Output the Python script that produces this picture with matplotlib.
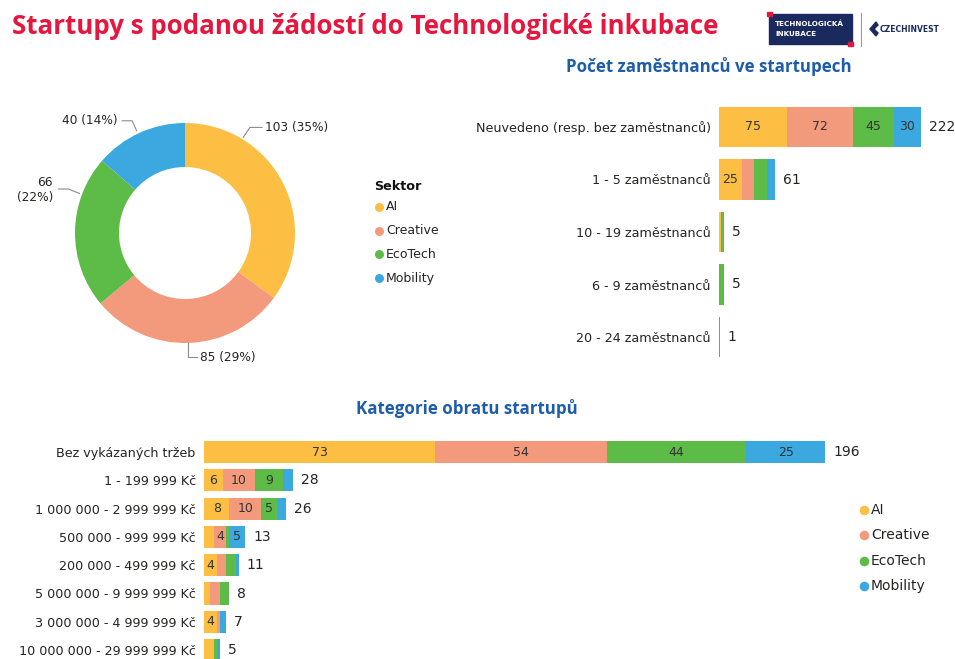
import matplotlib
matplotlib.use("Agg")
import matplotlib.pyplot as plt
from matplotlib.patches import Rectangle, Polygon

# sector data
sectors = ["AI", "Creative", "EcoTech", "Mobility"]
sector_colors = ["#FDBF43", "#F3997C", "#5DBB47", "#3BA8E0"]
donut_values = [103, 85, 66, 40]

# employees chart
emp_cats = ["Neuvedeno (resp. bez zaměstnanců)", "1 - 5 zaměstnanců",
            "10 - 19 zaměstnanců", "6 - 9 zaměstnanců", "20 - 24 zaměstnanců"]
emp_ai = [75, 25, 2, 0, 0]
emp_creative = [72, 13, 0, 0, 0]
emp_ecotech = [45, 15, 3, 4, 0]
emp_mobility = [30, 8, 0, 1, 1]

# turnover chart
rev_cats = ["Bez vykázaných tržeb", "1 - 199 999 Kč", "1 000 000 - 2 999 999 Kč",
            "500 000 - 999 999 Kč", "200 000 - 499 999 Kč", "5 000 000 - 9 999 999 Kč",
            "3 000 000 - 4 999 999 Kč", "10 000 000 - 29 999 999 Kč"]
rev_ai = [73, 6, 8, 3, 4, 2, 4, 3]
rev_creative = [54, 10, 10, 4, 3, 3, 1, 0]
rev_ecotech = [44, 9, 5, 1, 3, 3, 0, 1]
rev_mobility = [25, 3, 3, 5, 1, 0, 2, 1]

W, H = 955, 659
TXT = "#252423"
TITLE_RED = "#E5173F"
SUB_BLUE = "#1D5DAA"
NAVY = "#1B2A5E"


def px_axes(fig, x0, y0, x1, y1):
    # axes from pixel box (top-left origin)
    return fig.add_axes([x0 / W, 1 - y1 / H, (x1 - x0) / W, (y1 - y0) / H])


def stacked_bars(ax, cats, series, px_per_unit, height, ylim, xmax, tick_size,
                 total_size, seg_size):
    y = list(range(len(cats)))
    left = [0] * len(cats)
    for vals, col in zip(series, sector_colors):
        ax.barh(y, vals, left=left, height=height, color=col, linewidth=0)
        for i, v in enumerate(vals):
            if v == 0:
                continue
            label = str(v)
            need = len(label) * 7.5 + 4
            if v * px_per_unit >= need:
                ax.text(left[i] + v / 2, i, label, ha="center", va="center",
                        fontsize=seg_size, color="#333333")
        left = [l + v for l, v in zip(left, vals)]
    for i, tot in enumerate(left):
        ax.text(tot + 8 / px_per_unit, i, str(tot), ha="left", va="center",
                fontsize=total_size, color=TXT)
    ax.set_yticks(y)
    ax.set_yticklabels(cats, fontsize=tick_size, color=TXT)
    ax.tick_params(axis="y", length=0, pad=6)
    ax.set_xticks([])
    ax.set_xlim(0, xmax)
    ax.set_ylim(*ylim)
    for s in ax.spines.values():
        s.set_visible(False)


fig = plt.figure(figsize=(W / 100, H / 100), dpi=100)
plt.rcParams['font.family'] = ['DejaVu Sans']

# ---- donut ----
axd = px_axes(fig, 75, 123, 295, 343)
axd.pie(donut_values, colors=sector_colors, startangle=90, counterclock=False,
        radius=1, wedgeprops=dict(width=0.4, linewidth=0))
axd.set_xlim(-1, 1)
axd.set_ylim(-1, 1)
axd.set_aspect("equal")
total = sum(donut_values)
# leader lines: (start, elbow, end), text anchor, alignment
leaders = [
    ([(0.53, 0.87), (0.59, 0.96), (0.70, 0.96)], (0.73, 0.96), "left"),
    ([(0.03, -1.0), (0.03, -1.13), (0.11, -1.13)], (0.14, -1.13), "left"),
    ([(-0.96, 0.36), (-1.06, 0.40), (-1.15, 0.40)], (-1.20, 0.39), "right"),
    ([(-0.44, 0.93), (-0.48, 1.02), (-0.57, 1.02)], (-0.61, 1.02), "right"),
]
for val, (pts, tpos, ha) in zip(donut_values, leaders):
    xs, ys = zip(*pts)
    axd.plot(xs, ys, color="#8a8a8a", lw=0.8, clip_on=False)
    pct = round(100 * val / total)
    label = f"{val} ({pct}%)" if val != 66 else f"{val}\n({pct}%)"
    axd.text(tpos[0], tpos[1], label, ha=ha, va="center", fontsize=8.7,
             color=TXT, linespacing=1.2, clip_on=False)

# ---- employees ----
ax1 = px_axes(fig, 719, 100.75, 949, 363.25)
stacked_bars(ax1, emp_cats, [emp_ai, emp_creative, emp_ecotech, emp_mobility],
             px_per_unit=0.91, height=0.77, ylim=(4.5, -0.5), xmax=230 / 0.91,
             tick_size=9.2, total_size=10, seg_size=9)

# ---- turnover ----
ax2 = px_axes(fig, 204, 437.85, 850, 659)
stacked_bars(ax2, rev_cats, [rev_ai, rev_creative, rev_ecotech, rev_mobility],
             px_per_unit=3.17, height=0.78, ylim=(-0.5 + 221.15 / 28.3, -0.5),
             xmax=646 / 3.17, tick_size=9.2, total_size=10, seg_size=9)

# ---- overlay in pixel coords for titles, legends, logo ----
ov = fig.add_axes([0, 0, 1, 1], zorder=5)
ov.set_xlim(0, W)
ov.set_ylim(H, 0)
ov.axis("off")
ov.patch.set_alpha(0)

ov.text(12, 26, "Startupy s podanou žádostí do Technologické inkubace",
        ha="left", va="center", fontsize=18.6, fontweight="bold", color=TITLE_RED,
        family="Open Sans")
ov.text(709, 66, "Počet zaměstnanců ve startupech", ha="center", va="center",
        fontsize=12.2, fontweight="bold", color=SUB_BLUE, family="Open Sans")
ov.text(467, 409, "Kategorie obratu startupů", ha="center", va="center",
        fontsize=12.2, fontweight="bold", color=SUB_BLUE, family="Open Sans")

# legend 1
ov.text(374, 186, "Sektor", ha="left", va="center", fontsize=9.2,
        fontweight="bold", color="#111111")
for i, (name, col) in enumerate(zip(sectors, sector_colors)):
    yy = 207 + i * 23.7
    ov.scatter([379], [yy], s=42, color=col, linewidths=0)
    ov.text(386, yy, name, ha="left", va="center", fontsize=9, color=TXT)

# legend 2
for i, (name, col) in enumerate(zip(sectors, sector_colors)):
    yy = 510 + i * 25.3
    ov.scatter([864], [yy], s=48, color=col, linewidths=0)
    ov.text(871, yy, name, ha="left", va="center", fontsize=10, color=TXT)

# logo
ov.add_patch(Rectangle((769, 14), 83, 30, color=NAVY, zorder=6))
ov.add_patch(Rectangle((767, 12), 5, 4, color="#E5173F", zorder=7))
ov.add_patch(Rectangle((848, 42), 5, 4, color="#E5173F", zorder=7))
ov.text(775, 23.5, "TECHNOLOGICKÁ", ha="left", va="center", fontsize=5.2,
        fontweight="bold", color="white", zorder=8)
ov.text(775, 33.5, "INKUBACE", ha="left", va="center", fontsize=5.2,
        fontweight="bold", color="white", zorder=8)
ov.plot([861, 861], [13, 46], color="#9a9a9a", lw=0.8)
ov.add_patch(Polygon([(876, 22), (870, 29), (876, 36), (878, 33), (874, 29),
                      (878, 25)], closed=True, color=NAVY, zorder=6))
ov.text(880, 29.5, "CZECHINVEST", ha="left", va="center", fontsize=5.5,
        fontweight="bold", color=NAVY)

fig.savefig("out.png", dpi=100)
